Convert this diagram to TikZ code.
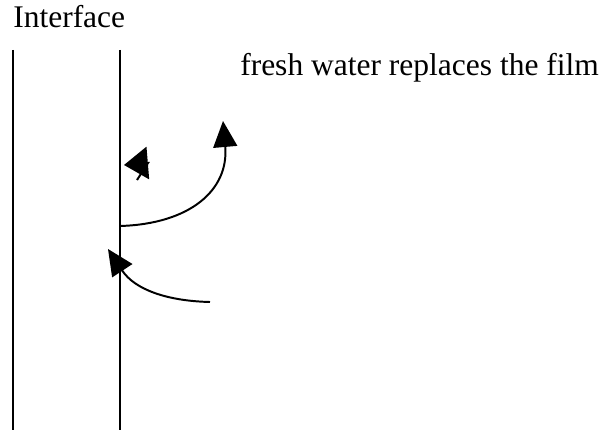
\documentclass[tikz,border=0pt]{standalone}
\usepackage{fontspec}
\setmainfont{Liberation Serif}
\usetikzlibrary{arrows.meta}

\begin{document}
\begin{tikzpicture}[
    x=0.025cm,
    y=-0.025cm,
    wall/.style={
        line width=1.4pt
    },
    flow/.style={
        line width=1.4pt,
        -{Triangle[length=18.5pt,width=17pt]}
    },
    stubflow/.style={
        line width=1.4pt,
        -{Triangle[length=17pt,width=23pt]}
    },
    caption/.style={
        anchor=base west,
        inner sep=0pt,
        font=\fontsize{22.4}{27}\selectfont
    }
]

\useasboundingbox (0,0) rectangle (603,433);

\node[caption] (iface) at (13,28) {Interface};
\node[caption] (fresh) at (240,75) {fresh water replaces the film};

% the two walls of the film
\coordinate (outertop) at (13,50);
\coordinate (outerbot) at (13,430);
\coordinate (innertop) at (120,50);
\coordinate (innerbot) at (120,430);
\draw[wall] (outertop) -- (outerbot);
\draw[wall] (innertop) -- (innerbot);

% flows near the interface
\coordinate (upstart) at (120,226);
\coordinate (uptip) at (223,121);
\coordinate (instart) at (210,302);
\coordinate (intip) at (108,249);
\coordinate (backstart) at (137,180);
\coordinate (backbase) at (148,163);
\coordinate (backtip) at (124,165);

\draw[flow] (upstart) .. controls (190,224) and (229,190) .. (uptip);
\draw[flow] (instart) .. controls (168,301) and (135,290) .. (intip);
\draw[stubflow] (backstart) -- (backbase) -- (backtip);

\end{tikzpicture}
\end{document}
